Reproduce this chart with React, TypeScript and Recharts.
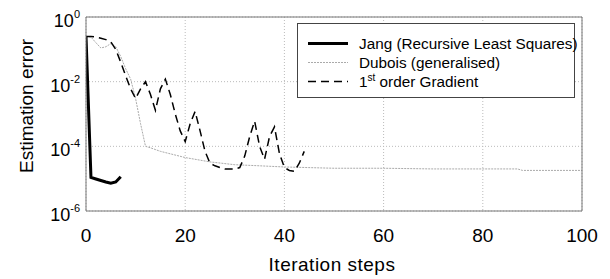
import React from 'react';
import { LineChart, Line, XAxis, YAxis, CartesianGrid, Legend } from 'recharts';

// Jang (Recursive Least Squares)
const jangSteps = [0, 1, 2, 3, 4, 5, 6, 7];
const jangError = [0.25, 1.1e-5, 9.8e-6, 8.8e-6, 7.9e-6, 7.2e-6, 7.9e-6, 1.15e-5];

// Dubois (generalised)
const duboisSteps = [0, 1, 2, 3, 4, 5, 6, 7, 8, 9, 10, 11, 12, 13, 15, 20, 25, 30, 35, 40, 50, 60, 70, 80, 87, 88, 100];
const duboisError = [
  0.25, 0.24, 0.16, 0.11, 0.12, 0.15, 0.12, 0.06, 0.025, 0.012, 0.003, 0.0005, 0.0001, 0.00009,
  0.00007, 0.000045, 0.000033, 0.000027, 0.000025, 0.000023, 0.000021, 0.000021, 0.00002,
  0.00002, 0.00002, 0.000018, 0.000018,
];

// 1st order Gradient
const gradSteps = [
  0, 1, 2, 3, 4, 5, 6, 7, 8, 9, 10, 11, 12, 13, 14, 15, 16, 17, 18, 19, 20, 21, 22, 23, 24, 25,
  26, 27, 28, 29, 30, 31, 32, 33, 34, 35, 36, 37, 38, 39, 40, 41, 42, 43, 44,
];
const gradError = [
  0.25, 0.25, 0.24, 0.22, 0.2, 0.17, 0.1, 0.04, 0.015, 0.006, 0.003, 0.006, 0.01, 0.004, 0.0013,
  0.006, 0.012, 0.004, 0.001, 0.0003, 0.00014, 0.0005, 0.0012, 0.0003, 0.00007, 0.00003,
  0.000025, 0.000022, 0.00002, 0.00002, 0.00002, 0.000022, 0.00005, 0.0002, 0.0006, 0.0001,
  0.00004, 0.0002, 0.0004, 0.00006, 0.000022, 0.000018, 0.000017, 0.00003, 0.00007,
];

const xLabelTicks = [0, 20, 40, 60, 80, 100];
const xMinorTicks = [0, 10, 20, 30, 40, 50, 60, 70, 80, 90, 100];
const yLabelTicks = [1e-6, 1e-4, 1e-2, 1];
const yMinorTicks = [1e-6, 1e-5, 1e-4, 1e-3, 1e-2, 1e-1, 1];

const toPoints = (steps: number[], errs: number[]) => steps.map((x, i) => ({ x, y: errs[i] }));

const jangData = toPoints(jangSteps, jangError);
const duboisData = toPoints(duboisSteps, duboisError);
const gradData = toPoints(gradSteps, gradError);

const FONT = '"Liberation Sans", Arial, sans-serif';
const BORDER = '#777';

const YTick = (props: any) => {
  const { x, y, payload } = props;
  const exp = Math.round(Math.log10(payload.value));
  return (
    <text x={x} y={y + 10} textAnchor="end" fontSize={18} fill="#000" fontFamily={FONT}>
      <tspan>10</tspan>
      <tspan dy={-9} fontSize={11}>{exp}</tspan>
    </text>
  );
};

const XTick = (props: any) => {
  const { x, y, payload } = props;
  return (
    <text x={x} y={y + 14} textAnchor="middle" fontSize={19} fill="#000" fontFamily={FONT}>
      {payload.value}
    </text>
  );
};

const LegendBox = () => {
  const rows = [
    { label: <>Jang (Recursive Least Squares)</>, stroke: '#000', width: 3, dash: undefined },
    { label: <>Dubois (generalised)</>, stroke: '#aaa', width: 1, dash: '2 1' },
    {
      label: (
        <>
          1<sup style={{ fontSize: 10, lineHeight: 0 }}>st</sup> order Gradient
        </>
      ),
      stroke: '#000',
      width: 1.5,
      dash: '8 5',
    },
  ];
  return (
    <div
      style={{
        position: 'relative',
        width: 276,
        height: 73,
        border: '1px solid #444',
        background: '#fff',
        fontFamily: FONT,
        fontSize: 15.3,
        color: '#000',
      }}
    >
      {rows.map((r, i) => (
        <div key={i} style={{ position: 'absolute', left: 0, top: 10 + 19 * i, height: 19, width: 276 }}>
          <svg width={60} height={19} style={{ position: 'absolute', left: 0, top: 0 }}>
            <line x1={10} x2={50} y1={9.5} y2={9.5} stroke={r.stroke} strokeWidth={r.width} strokeDasharray={r.dash} />
          </svg>
          <span style={{ position: 'absolute', left: 61, top: 0, lineHeight: '19px', whiteSpace: 'nowrap' }}>{r.label}</span>
        </div>
      ))}
    </div>
  );
};

export default function App() {
  return (
    <div style={{ position: 'absolute', left: 0, top: 0, background: '#fff' }}>
      <LineChart
        width={610}
        height={279}
        margin={{ top: 17, right: 28, left: 0, bottom: 0 }}
        style={{ fontFamily: FONT }}
      >
        <CartesianGrid xAxisId="x" yAxisId="y" stroke="#bbb" strokeDasharray="1 2" />
        <XAxis
          xAxisId="x"
          dataKey="x"
          type="number"
          domain={[0, 100]}
          ticks={xLabelTicks}
          allowDataOverflow
          height={68}
          tickSize={0}
          tickMargin={17}
          axisLine={{ stroke: BORDER }}
          tick={<XTick />}
          label={{
            position: 'insideBottom',
            content: () => (
              <text x={332} y={271} textAnchor="middle" fontSize={19} letterSpacing={0.5} fill="#000" fontFamily={FONT}>
                Iteration steps
              </text>
            ),
          }}
        />
        <XAxis
          xAxisId="xb"
          orientation="bottom"
          mirror
          type="number"
          domain={[0, 100]}
          ticks={xMinorTicks}
          allowDataOverflow
          tickSize={5}
          tick={false}
          axisLine={false}
          tickLine={{ stroke: BORDER }}
        />
        <XAxis
          xAxisId="xt"
          orientation="top"
          mirror
          type="number"
          domain={[0, 100]}
          ticks={xMinorTicks}
          allowDataOverflow
          tickSize={5}
          tick={false}
          axisLine={{ stroke: BORDER }}
          tickLine={{ stroke: BORDER }}
        />
        <YAxis
          yAxisId="y"
          scale="log"
          type="number"
          domain={[1e-6, 1]}
          ticks={yLabelTicks}
          allowDataOverflow
          width={86}
          tickSize={0}
          tickMargin={6}
          axisLine={{ stroke: BORDER }}
          tick={<YTick />}
          label={{
            position: 'insideLeft',
            content: () => (
              <text x={33} y={106} transform="rotate(-90 33 106)" textAnchor="middle" fontSize={19} fill="#000" fontFamily={FONT}>
                Estimation error
              </text>
            ),
          }}
        />
        <YAxis
          yAxisId="yl"
          orientation="left"
          mirror
          scale="log"
          type="number"
          domain={[1e-6, 1]}
          ticks={yMinorTicks}
          allowDataOverflow
          tickSize={5}
          tick={false}
          axisLine={false}
          tickLine={{ stroke: BORDER }}
        />
        <YAxis
          yAxisId="yr"
          orientation="right"
          mirror
          scale="log"
          type="number"
          domain={[1e-6, 1]}
          ticks={yMinorTicks}
          allowDataOverflow
          tickSize={5}
          tick={false}
          axisLine={{ stroke: BORDER }}
          tickLine={{ stroke: BORDER }}
        />
        <Line
          xAxisId="x"
          yAxisId="y"
          data={duboisData}
          dataKey="y"
          stroke="#aaa"
          strokeWidth={1}
          strokeDasharray="2 1"
          dot={false}
          isAnimationActive={false}
        />
        <Line
          xAxisId="x"
          yAxisId="y"
          data={gradData}
          dataKey="y"
          stroke="#000"
          strokeWidth={1.5}
          strokeDasharray="8 5"
          dot={false}
          isAnimationActive={false}
        />
        <Line
          xAxisId="x"
          yAxisId="y"
          data={jangData}
          dataKey="y"
          stroke="#000"
          strokeWidth={3}
          dot={false}
          isAnimationActive={false}
        />
        <Legend
          layout="horizontal"
          verticalAlign="middle"
          align="center"
          content={() => <LegendBox />}
          wrapperStyle={{ left: 297, top: 23, width: 278, height: 75 }}
        />
      </LineChart>
    </div>
  );
}
